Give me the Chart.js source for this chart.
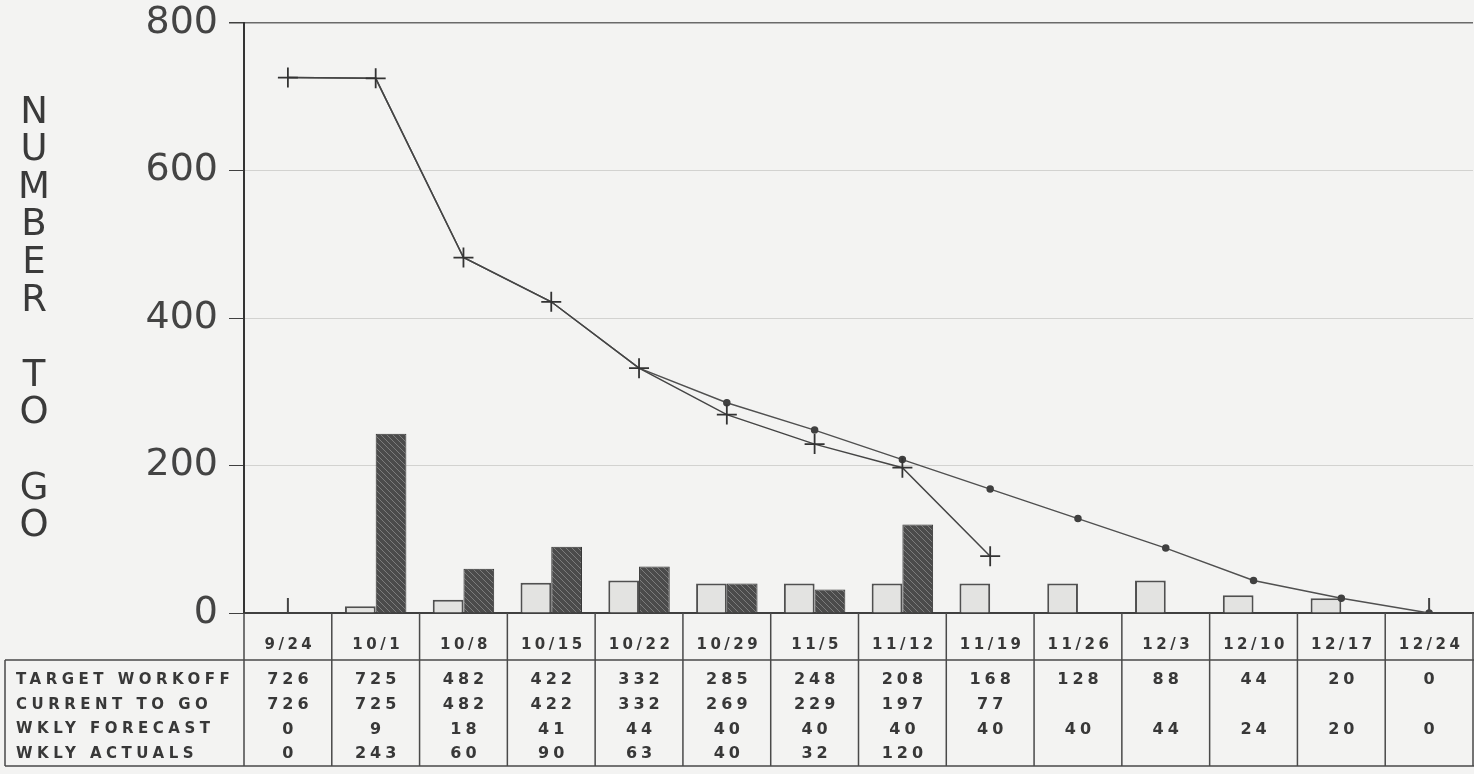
<!DOCTYPE html>
<html>
<head>
<meta charset="utf-8">
<title>Number to go</title>
<script src="https://cdn.jsdelivr.net/npm/chart.js@4.4.1/dist/chart.umd.min.js"></script>
<style>
  html, body { margin: 0; padding: 0; overflow: hidden; background: #f3f3f2; }
  canvas { display: block; }
</style>
</head>
<body>
<canvas id="burndown" width="1490" height="774"></canvas>
<script>
const weeks = ['9/24', '10/1', '10/8', '10/15', '10/22', '10/29', '11/5', '11/12', '11/19', '11/26', '12/3', '12/10', '12/17', '12/24'];
const targetWorkoff = [726, 725, 482, 422, 332, 285, 248, 208, 168, 128, 88, 44, 20, 0];
const currentToGo = [726, 725, 482, 422, 332, 269, 229, 197, 77, null, null, null, null, null];
const wklyForecast = [0, 9, 18, 41, 44, 40, 40, 40, 40, 40, 44, 24, 20, 0];
const wklyActuals = [0, 243, 60, 90, 63, 40, 32, 120, null, null, null, null, null, null];
const zeroMarks = [0, null, null, null, null, null, null, null, null, null, null, null, null, 0];
const yTicks = [0, 200, 400, 600, 800];
const yTitle = 'NUMBER TO GO';

const tableRows = [
  ['TARGET WORKOFF', targetWorkoff],
  ['CURRENT TO GO', currentToGo],
  ['WKLY FORECAST', wklyForecast],
  ['WKLY ACTUALS', wklyActuals]
];

// hatched fill for the actuals bars
function makeHatch() {
  const pc = document.createElement('canvas');
  pc.width = 6;
  pc.height = 6;
  const g = pc.getContext('2d');
  g.fillStyle = '#4b4b4b';
  g.fillRect(0, 0, 6, 6);
  g.strokeStyle = '#7c7c7c';
  g.lineWidth = 1;
  g.beginPath();
  g.moveTo(0, 0); g.lineTo(6, 6);
  g.moveTo(-3, 3); g.lineTo(3, 9);
  g.moveTo(3, -3); g.lineTo(9, 3);
  g.stroke();
  return g.createPattern(pc, 'repeat');
}

// stacked title letters and the data table under the axis
const sheetPlugin = {
  id: 'sheet',
  afterDraw(chart) {
    const { ctx, chartArea: a, scales: { x } } = chart;
    const step = x.getPixelForValue(1) - x.getPixelForValue(0);
    const top = a.bottom;
    const head = top + 47;
    const bottom = top + 153;

    ctx.save();
    // y title
    ctx.fillStyle = '#3a3a3a';
    ctx.font = '37px "DejaVu Sans"';
    ctx.textAlign = 'center';
    ctx.textBaseline = 'middle';
    for (let i = 0; i < yTitle.length; i++) {
      ctx.fillText(yTitle[i], 34, a.top + 90 + i * 37.6);
    }

    // grid of the table
    ctx.strokeStyle = '#4a4a4a';
    ctx.lineWidth = 1.5;
    ctx.beginPath();
    for (let i = 0; i <= weeks.length; i++) {
      const px = x.getPixelForValue(i) - step / 2;
      ctx.moveTo(px, top);
      ctx.lineTo(px, bottom);
    }
    ctx.moveTo(5, head); ctx.lineTo(chart.width, head);
    ctx.moveTo(5, bottom); ctx.lineTo(chart.width, bottom);
    ctx.moveTo(5, head); ctx.lineTo(5, bottom);
    ctx.stroke();

    ctx.fillStyle = '#383838';
    // dates
    ctx.font = 'bold 15px "DejaVu Sans"';
    ctx.letterSpacing = '3.5px';
    weeks.forEach((w, i) => {
      ctx.fillText(w, x.getPixelForValue(i) + 2, top + 32);
    });

    // rows
    tableRows.forEach(([label, vals], r) => {
      const cy = head + 20 + r * 24.7;
      ctx.textAlign = 'left';
      ctx.font = 'bold 15px "DejaVu Sans"';
      ctx.letterSpacing = '4.5px';
      ctx.fillText(label, 16, cy);
      ctx.textAlign = 'center';
      ctx.font = 'bold 16px "DejaVu Sans"';
      ctx.letterSpacing = '4px';
      vals.forEach((v, i) => {
        if (v === null) return;
        ctx.fillText(String(v), x.getPixelForValue(i) + 2, cy);
      });
    });
    ctx.restore();
  }
};

const ctx = document.getElementById('burndown').getContext('2d');
const hatch = makeHatch();

new Chart(ctx, {
  data: {
    labels: weeks,
    datasets: [
      {
        type: 'line',
        label: 'Target workoff',
        data: targetWorkoff,
        borderColor: '#505050',
        borderWidth: 1.5,
        tension: 0,
        pointStyle: 'circle',
        // the cross of the current line hides the dot where both agree
        pointRadius: c => (currentToGo[c.dataIndex] === targetWorkoff[c.dataIndex]) ? 0 : 3,
        pointBackgroundColor: '#404040',
        pointBorderColor: '#404040',
        order: 1
      },
      {
        type: 'line',
        label: 'Current to go',
        data: currentToGo,
        borderColor: '#454545',
        borderWidth: 1.5,
        tension: 0,
        spanGaps: false,
        pointStyle: 'cross',
        pointRadius: 10,
        pointBorderWidth: 1.8,
        pointBorderColor: '#333',
        order: 0
      },
      {
        type: 'line',
        label: 'zero',
        data: zeroMarks,
        showLine: false,
        pointStyle: 'line',
        rotation: 90,
        pointRadius: 15,
        pointBorderWidth: 2,
        pointBorderColor: '#444',
        order: 0
      },
      {
        type: 'bar',
        label: 'Wkly forecast',
        data: wklyForecast,
        backgroundColor: '#e3e3e1',
        borderColor: '#505050',
        borderWidth: 2,
        categoryPercentage: 0.7,
        barPercentage: 1.0,
        order: 3
      },
      {
        type: 'bar',
        label: 'Wkly actuals',
        data: wklyActuals,
        backgroundColor: hatch,
        borderColor: '#333',
        borderWidth: 1,
        categoryPercentage: 0.7,
        barPercentage: 1.0,
        order: 3
      }
    ]
  },
  options: {
    responsive: false,
    animation: false,
    devicePixelRatio: 1,
    layout: {
      padding: { top: 23, right: 3, bottom: 0, left: 0 }
    },
    plugins: {
      legend: { display: false },
      tooltip: { enabled: false }
    },
    scales: {
      x: {
        offset: true,
        grid: { display: false },
        border: { display: true, color: '#404040', width: 2 },
        ticks: { display: false },
        afterFit(scale) { scale.height = 161; }
      },
      y: {
        min: 0,
        max: 800,
        afterBuildTicks(scale) { scale.ticks = yTicks.map(v => ({ value: v })); },
        afterFit(scale) {
          scale.width = 244;
          scale.paddingTop = 0;
          scale.paddingBottom = 0;
        },
        grid: {
          color: c => (c.tick && c.tick.value === 800) ? '#6a6a6a' : '#d2d2d0',
          lineWidth: c => (c.tick && c.tick.value === 800) ? 1.5 : 1,
          tickLength: 15,
          tickColor: '#404040'
        },
        border: { display: true, color: '#333', width: 2 },
        ticks: {
          padding: 11,
          color: '#444',
          font: { family: '"DejaVu Sans"', size: 38 }
        }
      }
    }
  },
  plugins: [sheetPlugin]
});
</script>
</body>
</html>
